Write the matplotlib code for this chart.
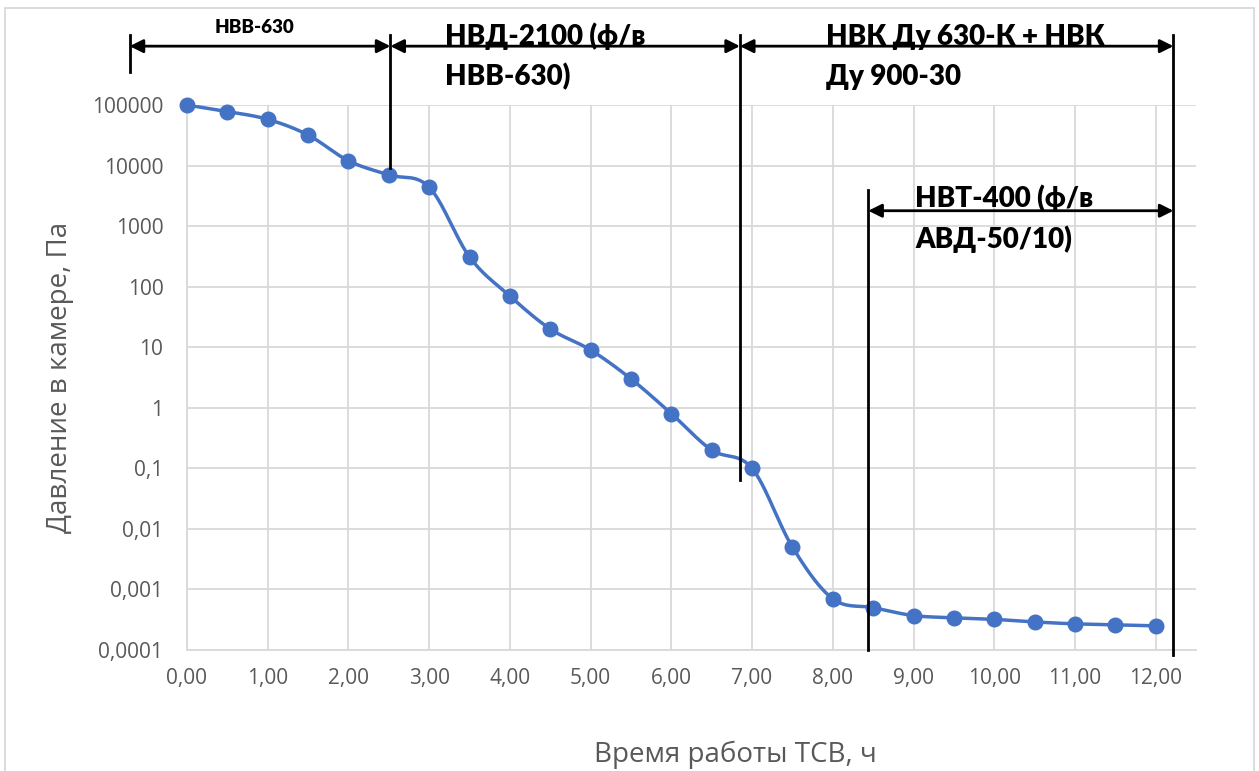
import numpy as np
import matplotlib.pyplot as plt
import matplotlib.transforms as mtransforms
from matplotlib.patches import Rectangle

# data
hours = [0.0, 0.5, 1.0, 1.5, 2.0, 2.5, 3.0, 3.5, 4.0, 4.5, 5.0, 5.5, 6.0,
         6.5, 7.0, 7.5, 8.0, 8.5, 9.0, 9.5, 10.0, 10.5, 11.0, 11.5, 12.0]
pressure = [100000, 78000, 58000, 32000, 12000, 7000, 4400, 310, 70, 20, 9,
            3, 0.8, 0.2, 0.1, 0.005, 0.0007, 0.0005, 0.00037, 0.00034,
            0.00032, 0.00029, 0.00027, 0.00026, 0.00025]

x_ticks = list(range(13))
x_tick_labels = ['{},00'.format(i) for i in x_ticks]
y_ticks = [1e-4, 1e-3, 1e-2, 1e-1, 1, 10, 100, 1000, 10000, 100000]
y_tick_labels = ['0,0001', '0,001', '0,01', '0,1', '1', '10', '100',
                 '1000', '10000', '100000']

# stage boundaries (hours) and labels
stage_bounds = [-0.71, 2.52, 6.85, 12.22]
stage_labels = ['НВВ-630', 'НВД-2100 (ф/в\nНВВ-630)',
                'НВК Ду 630-К + НВК\nДу 900-30']
sub_stage = (8.44, 12.22)
sub_label = 'НВТ-400 (ф/в\nАВД-50/10)'

BLUE = '#4472C4'
GRAY = '#595959'
GRID = '#D9D9D9'
BOLD_FONT = ['Lato', 'DejaVu Sans']
TICK_FONT = ['Open Sans', 'DejaVu Sans']


def catmull_rom(x, y, n=30):
    # smooth curve similar to the spreadsheet "smoothed line"
    x = np.asarray(x, float)
    y = np.asarray(y, float)
    px = np.concatenate([[x[0]], x, [x[-1]]])
    py = np.concatenate([[y[0]], y, [y[-1]]])
    xs, ys = [], []
    t = np.linspace(0, 1, n)
    for i in range(1, len(px) - 2):
        p0, p1, p2, p3 = [np.array([px[j], py[j]]) for j in range(i - 1, i + 3)]
        c1 = p1 + (p2 - p0) / 6.0
        c2 = p2 - (p3 - p1) / 6.0
        seg = (((1 - t) ** 3)[:, None] * p1 + (3 * (1 - t) ** 2 * t)[:, None] * c1
               + (3 * (1 - t) * t ** 2)[:, None] * c2 + (t ** 3)[:, None] * p2)
        xs.extend(seg[:, 0])
        ys.extend(seg[:, 1])
    return np.array(xs), np.array(ys)


def stage_text(ax, x, y, label, trans, step=0.0734):
    # one text per line, baselines a fixed distance apart
    for i, line in enumerate(label.split('\n')):
        ax.text(x, y - i * step, line, transform=trans, fontsize=20,
                fontweight='heavy', family=BOLD_FONT, ha='left',
                va='baseline', zorder=6)


fig = plt.figure(figsize=(12.59, 7.71), dpi=100)
ax = fig.add_axes([0.1485, 0.157, 0.8015, 0.7068])

sx, sy = catmull_rom(hours, np.log10(pressure))
ax.plot(sx, 10 ** sy, color=BLUE, lw=2.5, zorder=3)
ax.plot(hours, pressure, 'o', color=BLUE, ms=10.5, zorder=4, clip_on=False)

ax.set_yscale('log')
ax.set_xlim(0, 12.5)
ax.set_ylim(1e-4, 1e5)
ax.set_xticks(x_ticks)
ax.set_xticklabels(x_tick_labels)
ax.set_yticks(y_ticks)
ax.set_yticklabels(y_tick_labels)
ax.yaxis.set_minor_locator(plt.NullLocator())
ax.tick_params(length=0, labelsize=15, colors=GRAY)
ax.tick_params(axis='y', pad=17)
ax.tick_params(axis='x', pad=13)
for lab in ax.get_xticklabels() + ax.get_yticklabels():
    lab.set_fontfamily(TICK_FONT)
ax.grid(True, color=GRID, lw=1.3)
ax.set_axisbelow(True)
for side in ['top', 'right']:
    ax.spines[side].set_visible(False)
for side in ['left', 'bottom']:
    ax.spines[side].set_color(GRID)
    ax.spines[side].set_linewidth(1.3)

ax.set_ylabel('Давление в камере, Па', fontsize=20, color=GRAY,
              family=TICK_FONT, labelpad=13)
fig.text(0.584, 0.0117, 'Время работы ТСВ, ч', fontsize=20, color=GRAY,
         family=TICK_FONT, ha='center', va='baseline')

# stage annotations: x in data, y in axes fraction
trans = mtransforms.blended_transform_factory(ax.transData, ax.transAxes)
arrow_y = 1.108
line_kw = dict(color='black', lw=2, transform=trans, clip_on=False, zorder=5)
ax.plot([stage_bounds[0]] * 2, [1.061, 1.128], **line_kw)
ax.plot([stage_bounds[1]] * 2, [0.884, 1.128], **line_kw)
ax.plot([stage_bounds[2]] * 2, [0.312, 1.128], **line_kw)
ax.plot([stage_bounds[3]] * 2, [-0.009, 1.128], **line_kw)
ax.plot([sub_stage[0]] * 2, [0.0, 0.844], **line_kw)

arrow_kw = dict(arrowstyle='<|-|>', color='black', lw=2, mutation_scale=20,
                shrinkA=0, shrinkB=0)
for a, b in zip(stage_bounds[:-1], stage_bounds[1:]):
    ax.annotate('', xy=(b, arrow_y), xytext=(a, arrow_y), xycoords=trans,
                textcoords=trans, arrowprops=arrow_kw, annotation_clip=False)
ax.annotate('', xy=(sub_stage[1], 0.806), xytext=(sub_stage[0], 0.806),
            xycoords=trans, textcoords=trans, arrowprops=arrow_kw,
            annotation_clip=False)

ax.text(0.84, 1.132, stage_labels[0], transform=trans, fontsize=13.5,
        fontweight='heavy', family=BOLD_FONT, ha='center', va='baseline',
        zorder=6)
stage_text(ax, 3.2, 1.110, stage_labels[1], trans)
stage_text(ax, 7.91, 1.110, stage_labels[2], trans)
stage_text(ax, 9.02, 0.813, sub_label, trans, step=0.0752)

# chart area border
fig.patches.append(Rectangle((0.004, -0.01), 0.992, 1.0, transform=fig.transFigure,
                             fill=False, edgecolor=GRID, lw=1.3))

fig.savefig('out.png', dpi=100)
